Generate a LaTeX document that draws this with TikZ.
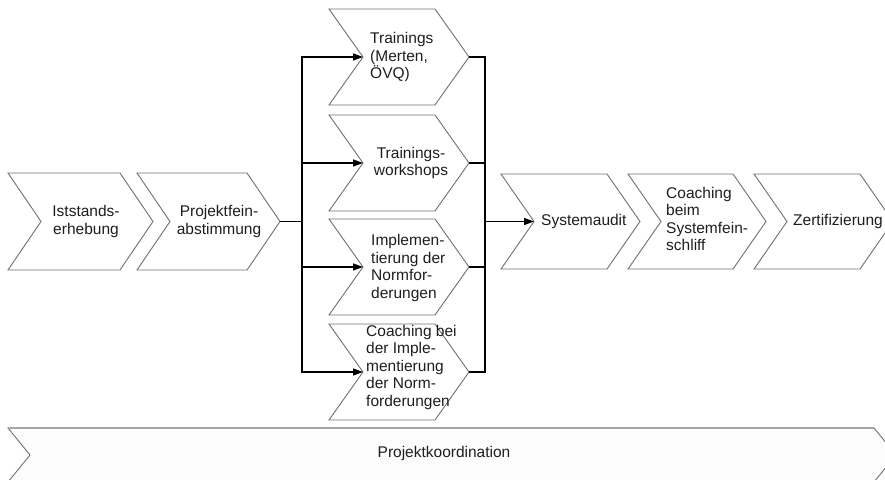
\documentclass[tikz,border=0pt]{standalone}
\usepackage{fontspec}
\setmainfont{Liberation Sans}
\usetikzlibrary{arrows.meta}
\tikzset{
  chevbox/.style={draw=chevgray, line width=0.9pt, fill=white, line join=miter},
  conn/.style={draw=black, line width=1.3pt},
  arr/.style={conn, -{Triangle[length=10pt,width=7pt]}},
  lbl/.style={inner sep=0pt, text=txt, font=\fontsize{15.5}{17.5}\selectfont},
}
\definecolor{chevgray}{HTML}{707070}
\definecolor{txt}{HTML}{1E1E1E}
% \chevron{name}{x0}{ytop}{w}{h}{d}
\newcommand\chevron[6]{%
  \path[chevbox] (#2,#3) -- ++(#4,0) -- ++(#6,#5/2) -- ++(-#6,#5/2) -- ++(-#4,0) -- ++(#6,-#5/2) -- cycle;
  \coordinate (#1-n) at (#2+#6,#3+#5/2);
  \coordinate (#1-t) at (#2+#4+#6,#3+#5/2);
}
\begin{document}
\begin{tikzpicture}[x=1pt,y=-1pt]
\useasboundingbox (0,0) rectangle (885,479);
\begin{scope}
\clip (0,0) rectangle (885,479);
% main row
\chevron{is}{8}{173}{112}{97}{33}
\chevron{pf}{137}{173}{110}{97}{33}
% middle column
\chevron{tr}{329}{9}{106}{96}{34}
\chevron{tw}{329}{115}{106}{96}{34}
\chevron{im}{329}{219}{106}{96}{34}
\chevron{co}{329}{324}{106}{96}{34}
% right row
\chevron{sa}{501}{174}{106}{95}{33}
\chevron{cb}{628}{174}{105}{95}{33}
\chevron{ze}{754}{174}{106}{95}{33}
% bottom bar
\path[draw=chevgray, line width=0.9pt, fill=white!99!black] (8,428) -- (874,428) -- (896,455) -- (874,482) -- (8,482) -- (30,455) -- cycle;
\draw[draw=gray!70, line width=2pt] (8,428) -- (874,428);
\end{scope}
% junctions
\coordinate (jl) at (302,221.5);
\coordinate (jr) at (485,221.5);
\draw[conn] (pf-t) -- (jl);
\draw[arr] (jl) |- (tr-n);
\draw[arr] (jl) |- (tw-n);
\draw[arr] (jl) |- (im-n);
\draw[arr] (jl) |- (co-n);
\draw[conn] (tr-t) -| (jr);
\draw[conn] (tw-t) -| (jr);
\draw[conn] (im-t) -| (jr);
\draw[conn] (co-t) -| (jr);
\draw[arr] (jr) -- (sa-n);
% labels
\node[lbl, align=center] (t-is) at (86,221.5) {Iststands-\\erhebung};
\node[lbl, align=center] (t-pf) at (219,221.5) {Projektfein-\\abstimmung};
\node[lbl, align=left, anchor=west] (t-tr) at (370,57) {Trainings\\(Merten,\\ÖVQ)};
\node[lbl, align=center] (t-tw) at (411,163) {Trainings-\\workshops};
\node[lbl, align=left, anchor=west] (t-im) at (371,268) {Implemen-\\tierung der\\Normfor-\\derungen};
\node[lbl, align=left, anchor=west] (t-co) at (366,367) {Coaching bei\\der Imple-\\mentierung\\der Norm-\\forderungen};
\node[lbl, anchor=west] (t-sa) at (541,221.5) {Systemaudit};
\node[lbl, align=left, anchor=west] (t-cb) at (666,219) {Coaching\\beim\\Systemfein-\\schliff};
\node[lbl, anchor=west] (t-ze) at (793,221.5) {Zertifizierung};
\node[lbl] (t-pk) at (444,453) {Projektkoordination};
\end{tikzpicture}
\end{document}
